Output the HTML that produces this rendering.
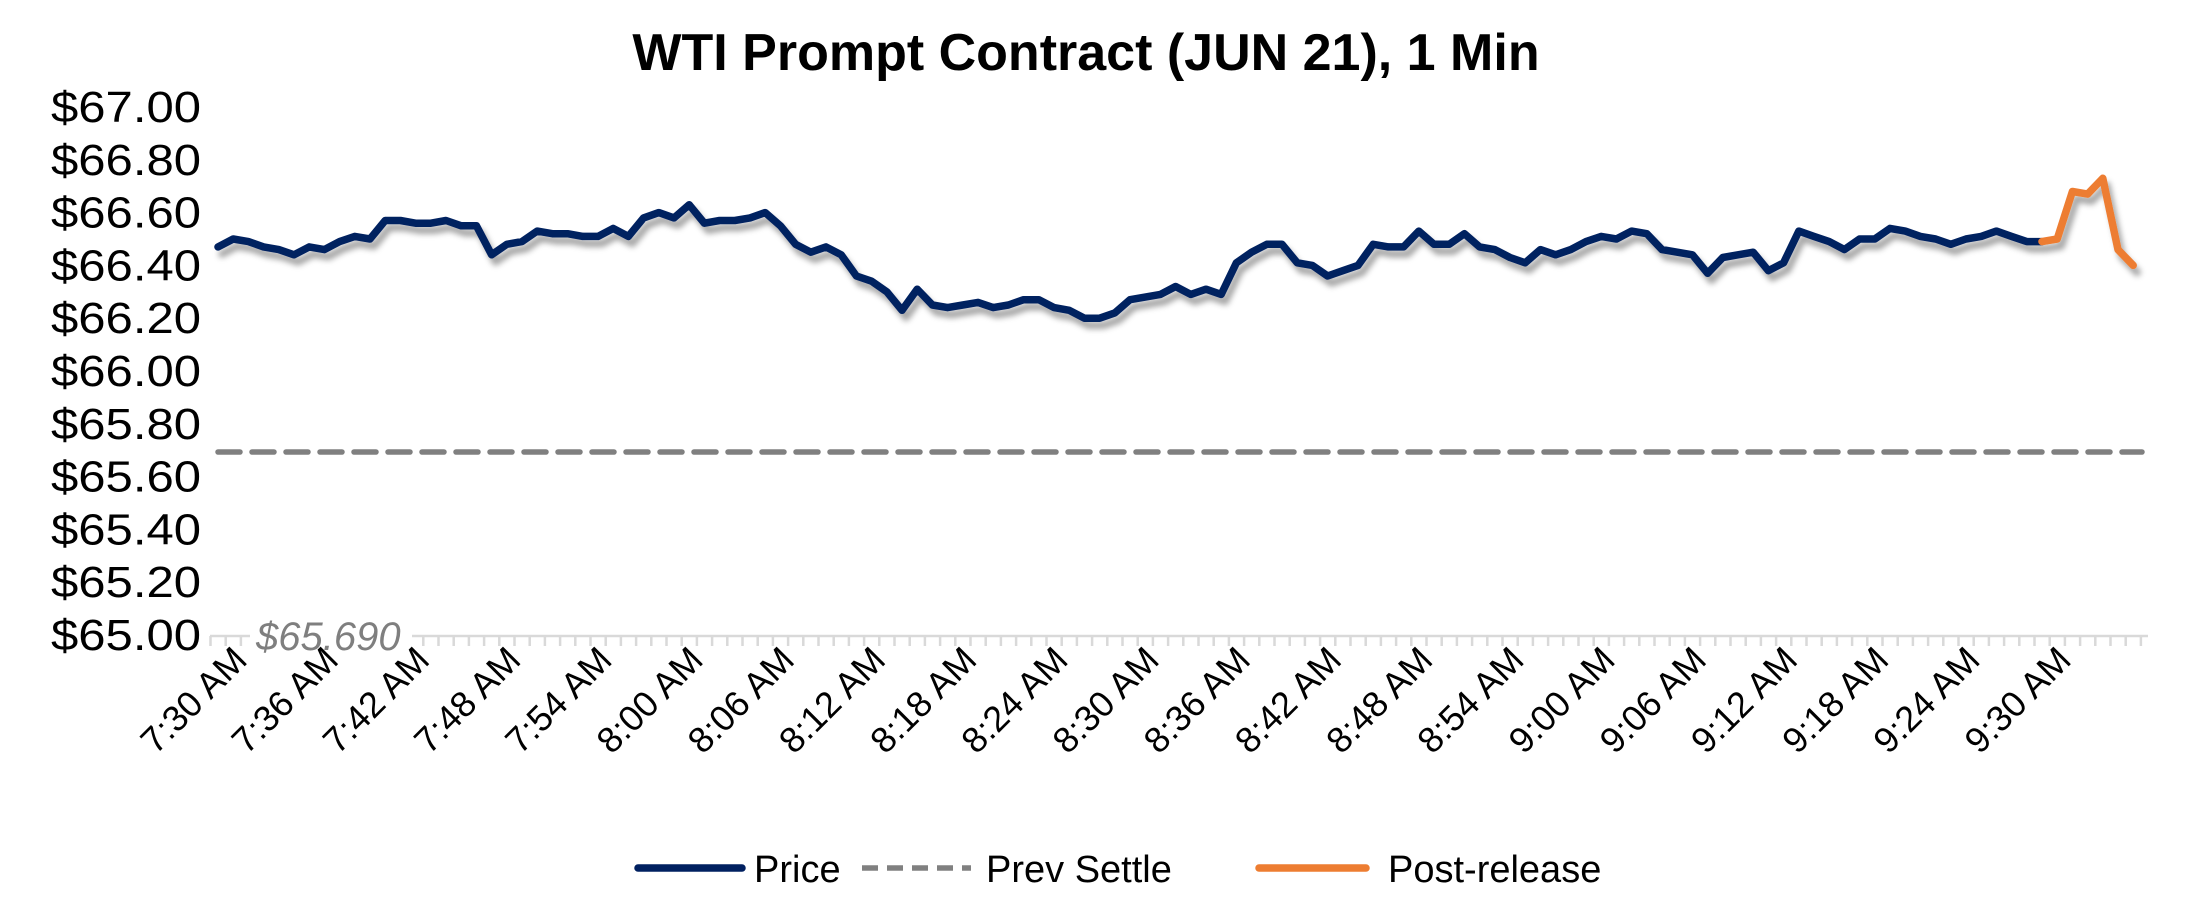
<!DOCTYPE html>
<html><head><meta charset="utf-8"><style>
html,body{margin:0;padding:0;background:#fff;}
svg{display:block;font-family:"Liberation Sans",Arial,sans-serif;}
</style></head><body>
<svg id="s" width="2196" height="900" viewBox="0 0 2196 900" xmlns="http://www.w3.org/2000/svg">
<defs>
<filter id="sh" x="-5%" y="-20%" width="110%" height="160%">
<feDropShadow dx="4" dy="7" stdDeviation="3" flood-color="#000" flood-opacity="0.35"/>
</filter>
</defs>
<text x="1086" y="70" text-anchor="middle" font-size="52" font-weight="bold" fill="#000">WTI Prompt Contract (JUN 21), 1 Min</text>
<g id="yl" font-size="44" fill="#000" text-anchor="end"></g>
<g id="ticks" stroke="#d9d9d9" stroke-width="2.5"></g>
<rect x="250" y="610" width="162" height="45" fill="#fff"/>
<text x="256" y="650" font-size="40" font-style="italic" fill="#7f7f7f">$65.690</text>
<line x1="218" y1="452" x2="2142" y2="452" stroke="#808080" stroke-width="5.5" stroke-dasharray="22,12" stroke-linecap="round"/>
<g filter="url(#sh)">
<polyline id="pb" fill="none" stroke="#002060" stroke-width="7.5" stroke-linejoin="round" stroke-linecap="round"/>
<polyline id="po" fill="none" stroke="#ed7d31" stroke-width="7.5" stroke-linejoin="round" stroke-linecap="round"/>
</g>
<g id="xl" font-size="36" fill="#000" text-anchor="end"></g>
<line x1="638" y1="868" x2="742" y2="868" stroke="#002060" stroke-width="7.5" stroke-linecap="round"/>
<text x="754" y="882" font-size="38" fill="#000">Price</text>
<line x1="862" y1="868" x2="971" y2="868" stroke="#808080" stroke-width="5.5" stroke-dasharray="16,9"/>
<text x="986" y="882" font-size="38" fill="#000">Prev Settle</text>
<line x1="1259" y1="868" x2="1366" y2="868" stroke="#ed7d31" stroke-width="7.5" stroke-linecap="round"/>
<text x="1388" y="882" font-size="38" fill="#000">Post-release</text>
</svg>
<script>
var d=[66.47,66.50,66.49,66.47,66.46,66.44,66.47,66.46,66.49,66.51,
66.50,66.57,66.57,66.56,66.56,66.57,66.55,66.55,66.44,66.48,
66.49,66.53,66.52,66.52,66.51,66.51,66.54,66.51,66.58,66.60,
66.58,66.63,66.56,66.57,66.57,66.58,66.60,66.55,66.48,66.45,
66.47,66.44,66.36,66.34,66.30,66.23,66.31,66.25,66.24,66.25,
66.26,66.24,66.25,66.27,66.27,66.24,66.23,66.20,66.20,66.22,
66.27,66.28,66.29,66.32,66.29,66.31,66.29,66.41,66.45,66.48,
66.48,66.41,66.40,66.36,66.38,66.40,66.48,66.47,66.47,66.53,
66.48,66.48,66.52,66.47,66.46,66.43,66.41,66.46,66.44,66.46,
66.49,66.51,66.50,66.53,66.52,66.46,66.45,66.44,66.37,66.43,
66.44,66.45,66.38,66.41,66.53,66.51,66.49,66.46,66.50,66.50,
66.54,66.53,66.51,66.50,66.48,66.50,66.51,66.53,66.51,66.49,66.49,
66.50,66.68,66.67,66.73,66.46,66.40];
var S=15.2;
function X(i){return 218+i*S;}
function Y(v){return 635-(v-65)*264;}
var b=[],o=[];
for(var i=0;i<d.length;i++){var p=X(i).toFixed(1)+","+Y(d[i]).toFixed(1);if(i<=120)b.push(p);if(i>=120)o.push(p);}
document.getElementById("pb").setAttribute("points",b.join(" "));
document.getElementById("po").setAttribute("points",o.join(" "));
var ns="http://www.w3.org/2000/svg";
var yl=document.getElementById("yl");
for(var k=0;k<=10;k++){var v=65+k*0.2;var t=document.createElementNS(ns,"text");t.setAttribute("x",201);t.setAttribute("y",(635-k*52.8+15).toFixed(1));t.setAttribute("textLength","150");t.setAttribute("lengthAdjust","spacingAndGlyphs");t.textContent="$"+v.toFixed(2);yl.appendChild(t);}
var tk=document.getElementById("ticks");
var l=document.createElementNS(ns,"line");l.setAttribute("x1",210);l.setAttribute("x2",2148);l.setAttribute("y1",636);l.setAttribute("y2",636);tk.appendChild(l);
for(var i=0;i<=128;i++){var x=210.5+i*S;if(x>2149)break;var m=document.createElementNS(ns,"line");m.setAttribute("x1",x);m.setAttribute("x2",x);m.setAttribute("y1",636);m.setAttribute("y2",646);tk.appendChild(m);}
var xl=document.getElementById("xl");
for(var i=0;i<=120;i+=6){var mins=30+i;var h=7+Math.floor(mins/60);var mm=mins%60;var s=h+":"+(mm<10?"0":"")+mm+" AM";var x=X(i)+31,y=662;var t=document.createElementNS(ns,"text");t.setAttribute("x",x);t.setAttribute("y",y);t.setAttribute("transform","rotate(-45 "+x+" "+y+")");t.textContent=s;xl.appendChild(t);}
</script>
</body></html>
